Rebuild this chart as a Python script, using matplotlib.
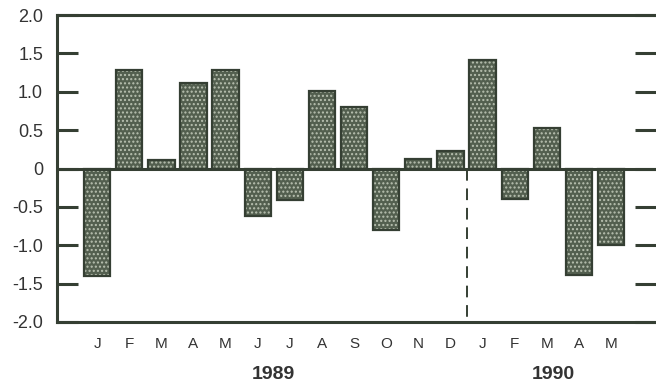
import numpy as np
import matplotlib.pyplot as plt

# Datos
meses = ['J', 'F', 'M', 'A', 'M', 'J', 'J', 'A', 'S', 'O', 'N', 'D',
         'J', 'F', 'M', 'A', 'M']
valores = [-1.40, 1.28, 0.11, 1.11, 1.28, -0.62, -0.41, 1.01, 0.80,
           -0.80, 0.12, 0.23, 1.41, -0.40, 0.53, -1.39, -1.00]
anios = ['1989', '1990']
anio_pos = [5.5, 14.2]
yticks = [-2.0, -1.5, -1.0, -0.5, 0, 0.5, 1.0, 1.5, 2.0]
ytick_labels = ['-2.0', '-1.5', '-1.0', '-0.5', '0', '0.5', '1.0', '1.5', '2.0']

plt.rcParams['font.family'] = ['Liberation Sans', 'DejaVu Sans']
oscuro = '#353f33'

fig = plt.figure(figsize=(6.56, 3.84), dpi=100)
ax = fig.add_axes([57/656, 62/384, 599/656, 307/384])

x = np.arange(len(valores))
ax.bar(x, valores, width=0.82, color='#535f4f', edgecolor='#b9c1b1',
       hatch='....', linewidth=0, zorder=2)
ax.bar(x, valores, width=0.82, color='none', edgecolor=oscuro,
       linewidth=1.6, zorder=3)

ax.axhline(0, color=oscuro, lw=2.2, zorder=4)
ax.plot([11.5, 11.5], [0, -2.0], color=oscuro, lw=1.4,
        dashes=(6, 4), zorder=1)

ax.set_xlim(-1.25, 17.4)
ax.set_ylim(-2.0, 2.0)
ax.set_xticks(x)
ax.set_xticklabels(meses, fontsize=11, color='#333333')
ax.tick_params(axis='x', length=0, pad=11)

ax.set_yticks(yticks)
ax.set_yticklabels(ytick_labels, fontsize=13, color='#333333')
ax.tick_params(axis='y', direction='in', length=15, width=2.2,
               color=oscuro, right=True, pad=10)

for lado in ['left', 'top', 'bottom']:
    ax.spines[lado].set_color(oscuro)
    ax.spines[lado].set_linewidth(2.2)
ax.spines['right'].set_visible(False)

for a, p in zip(anios, anio_pos):
    ax.text(p, -2.68, a, ha='center', va='center', fontsize=14,
            fontweight='bold', color='#333333')

fig.savefig('out.png', dpi=100)
